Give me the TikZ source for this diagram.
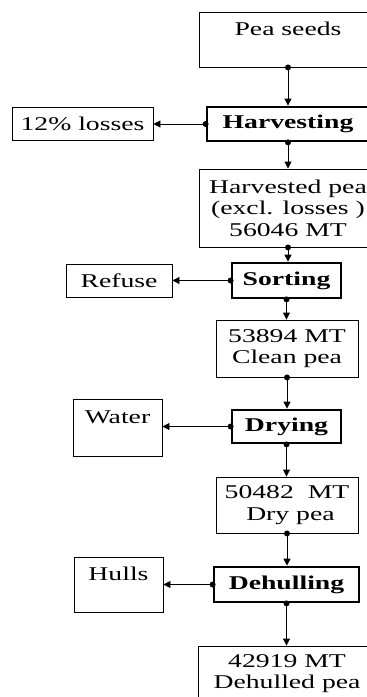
\documentclass[tikz,border=0pt]{standalone}
\usepackage{fontspec}
\setmainfont{Liberation Serif}[FakeStretch=1.42]
\usetikzlibrary{arrows.meta}
\begin{document}
\begin{tikzpicture}[x=1pt,y=-1pt,
  box/.style={draw,line width=0.9pt,inner sep=0pt,align=center,
    font=\fontsize{19.5}{21.5}\selectfont},
  proc/.style={box,line width=2.8pt,font=\fontsize{19.5}{21.5}\selectfont\bfseries},
  flow/.style={line width=0.9pt,-{Triangle[length=7pt,width=7pt]}},
  dotr/.style={radius=3pt}
]
\useasboundingbox (0,0) rectangle (367,697);
\clip (0,0) rectangle (367,697);

% main chain
\node[box,minimum width=178pt,minimum height=55pt] (ps) at (288,39.5) {Pea seeds\\~};
\node[proc,minimum width=162pt,minimum height=34pt] (hv) at (288,124) {Harvesting};
\node[box,minimum width=178pt,minimum height=78pt] (hp) at (288,208)
  {Harvested pea\\(excl. losses )\\56046 MT};
\node[proc,minimum width=109pt,minimum height=35pt] (so) at (286.5,280.5) {Sorting};
\node[box,minimum width=142pt,minimum height=57pt] (cp) at (287,348.5) {53894 MT\\Clean pea};
\node[proc,minimum width=109pt,minimum height=33pt] (dr) at (286.5,426.5) {Drying};
\node[box,minimum width=142pt,minimum height=56pt] (dp) at (287,505) {50482~~MT\\~Dry pea};
\node[proc,minimum width=145pt,minimum height=35pt] (dh) at (286.5,584.5) {Dehulling};
\node[box,minimum width=178pt,minimum height=55pt] (fp) at (287,673.5) {42919 MT\\Dehulled pea};

% side outputs
\node[box,minimum width=141pt,minimum height=33pt] (ls) at (82.5,123.5) {12\% losses};
\node[box,minimum width=106pt,minimum height=33pt] (rf) at (119,280.5) {Refuse};
\node[box,minimum width=89pt,minimum height=57pt] (wa) at (117.5,427.5) {Water\\~};
\node[box,minimum width=89pt,minimum height=55pt] (hu) at (118.5,584.5) {Hulls\\~};

% vertical flow
\draw[flow] (ps.south) -- (ps.south |- hv.north);
\draw[flow] (hv.south) -- (hv.south |- hp.north);
\draw[flow] (hp.south) -- (hp.south |- so.north);
\draw[flow] (so.south) -- (so.south |- cp.north);
\draw[flow] (cp.south) -- (cp.south |- dr.north);
\draw[flow] (dr.south) -- (dr.south |- dp.north);
\draw[flow] (dp.south) -- (dp.south |- dh.north);
\draw[flow] (dh.south) -- (dh.south |- fp.north);

% side flow
\draw[flow] (hv.west) -- (hv.west -| ls.east);
\draw[flow] (so.west) -- (so.west -| rf.east);
\draw[flow] (dr.west) -- (dr.west -| wa.east);
\draw[flow] (dh.west) -- (dh.west -| hu.east);

% junction dots
\foreach \n in {ps,hv,hp,so,cp,dr,dp,dh} \fill (\n.south) circle[dotr];
\foreach \n in {hv,so,dr,dh} \fill (\n.west) circle[dotr];
\end{tikzpicture}
\end{document}
